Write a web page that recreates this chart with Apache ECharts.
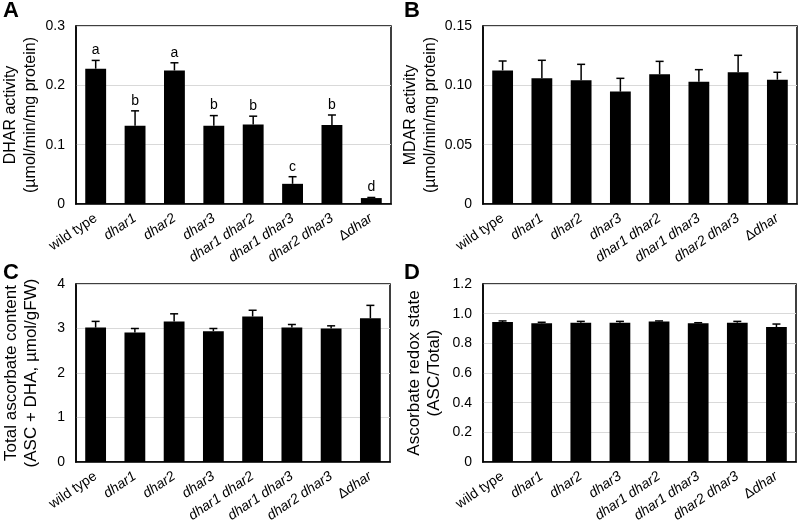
<!DOCTYPE html>
<html>
<head>
<meta charset="utf-8">
<script src="https://cdn.jsdelivr.net/npm/echarts@6/dist/echarts.min.js"></script>
<style>
html,body{margin:0;padding:0;background:#fff;}
#chart{width:800px;height:525px;}
</style>
</head>
<body>
<div id="chart"></div>
<script>
const categories = ['wild type','dhar1','dhar2','dhar3','dhar1 dhar2','dhar1 dhar3','dhar2 dhar3','Δdhar'];

const dharMean = [0.228, 0.132, 0.225, 0.132, 0.134, 0.034, 0.133, 0.010];
const dharErr  = [0.014, 0.025, 0.013, 0.017, 0.014, 0.012, 0.017, 0.001];
const dharLetters = ['a','b','a','b','b','c','b','d'];

const mdarMean = [0.1126, 0.1059, 0.1042, 0.0947, 0.1093, 0.1031, 0.1110, 0.1048];
const mdarErr  = [0.0079, 0.0152, 0.0135, 0.0112, 0.0109, 0.0101, 0.0143, 0.0062];

const ascMean = [3.02, 2.91, 3.16, 2.94, 3.27, 3.02, 3.00, 3.23];
const ascErr  = [0.14, 0.09, 0.17, 0.06, 0.14, 0.07, 0.06, 0.29];

const redoxMean = [0.944, 0.935, 0.939, 0.939, 0.948, 0.935, 0.939, 0.910];
const redoxErr  = [0.007, 0.007, 0.009, 0.009, 0.003, 0.004, 0.009, 0.020];

const yTicksA = ['0','0.1','0.2','0.3'];
const yTicksB = ['0','0.05','0.10','0.15'];
const yTicksC = ['0','1','2','3','4'];
const yTicksD = ['0','0.2','0.4','0.6','0.8','1.0','1.2'];

const panelLetters = ['A','B','C','D'];
const yTitles = [
  ['DHAR activity','(µmol/min/mg protein)'],
  ['MDAR activity','(µmol/min/mg protein)'],
  ['Total ascorbate content','(ASC + DHA, µmol/gFW)'],
  ['Ascorbate redox state','(ASC/Total)']
];

const FONT = 'Arial, "Liberation Sans", sans-serif';

const grids = [
  {left:76, top:26, width:315, height:178},
  {left:483, top:26, width:314, height:178},
  {left:76, top:284, width:314, height:178},
  {left:483, top:284, width:313, height:178}
];
const yCfg = [
  {max:0.3, interval:0.1, ticks:yTicksA, gap:35, fs:16},
  {max:0.15, interval:0.05, ticks:yTicksB, gap:42, fs:16},
  {max:4, interval:1, ticks:yTicksC, gap:35, fs:17},
  {max:1.2, interval:0.2, ticks:yTicksD, gap:39, fs:17}
];
const means = [dharMean, mdarMean, ascMean, redoxMean];
const errs = [dharErr, mdarErr, ascErr, redoxErr];
const letters = [dharLetters, null, null, null];

function catLabel(v){
  if (v === 'wild type') return '{n|wild type}';
  if (v.charAt(0) === 'Δ') return '{n|Δ}{i|' + v.slice(1) + '}';
  return '{i|' + v + '}';
}

function errRender(lets){
  return function(params, api){
    const i = api.value(0), m = api.value(1), e = api.value(2);
    const base = api.coord([i, m]);
    const top = api.coord([i, m + e]);
    const hw = 4;
    const children = [
      {type:'line', shape:{x1:base[0], y1:base[1], x2:top[0], y2:top[1]}, style:{stroke:'#000', lineWidth:1.5}},
      {type:'line', shape:{x1:top[0]-hw, y1:top[1], x2:top[0]+hw, y2:top[1]}, style:{stroke:'#000', lineWidth:1.5}}
    ];
    if (lets) {
      children.push({type:'text', x: top[0], y: top[1] - 3,
        style:{text: lets[i], fill:'#000', fontSize:14, fontFamily:FONT, align:'center', verticalAlign:'bottom'}});
    }
    return {type:'group', children};
  };
}

const option = {
  animation:false,
  backgroundColor:'#fff',
  grid: grids.map(g => Object.assign({show:true, borderColor:'#000', borderWidth:1.5, backgroundColor:'transparent', containLabel:false}, g)),
  xAxis: grids.map((g, k) => ({
    type:'category', gridIndex:k, data:categories,
    axisLine:{show:true, lineStyle:{color:'#000', width:1.5}},
    axisTick:{show:false},
    axisLabel:{
      interval:0, rotate:34, margin:13, color:'#000',
      formatter: catLabel,
      rich:{
        n:{fontSize:14, fontFamily:FONT, color:'#000'},
        i:{fontSize:14, fontFamily:FONT, color:'#000', fontStyle:'italic'}
      }
    },
    splitLine:{show:false}
  })),
  yAxis: yCfg.map((c, k) => ({
    type:'value', gridIndex:k, min:0, max:c.max, interval:c.interval,
    axisLine:{show:true, lineStyle:{color:'#000', width:1.5}},
    axisTick:{show:false},
    axisLabel:{
      color:'#000', fontSize:14, fontFamily:FONT, margin:11,
      formatter: (v) => c.ticks[Math.round(v / c.interval)]
    },
    splitLine:{show:true, lineStyle:{color:'#d9d9d9', width:1}},
    name: '{a|' + yTitles[k][0] + '}\n{b|' + yTitles[k][1] + '}',
    nameLocation:'middle', nameRotate:90, nameGap:c.gap,
    nameTextStyle:{
      align:'center',
      rich:{
        a:{fontSize:c.fs, fontFamily:FONT, color:'#000', lineHeight:20, align:'center'},
        b:{fontSize:c.fs, fontFamily:FONT, color:'#000', lineHeight:20, align:'center'}
      }
    }
  })),
  series: [],
  graphic: panelLetters.map((L, k) => ({
    type:'text', left: (k % 2 === 0) ? 3 : 404, top: (k < 2) ? 0 : 262,
    style:{text:L, fontSize:22, fontWeight:'bold', fontFamily:FONT, fill:'#000'}
  }))
};

for (let k = 0; k < 4; k++) {
  option.series.push({
    type:'bar', xAxisIndex:k, yAxisIndex:k, data: means[k],
    barWidth:'53%', itemStyle:{color:'#000'}, silent:true
  });
  option.series.push({
    type:'custom', xAxisIndex:k, yAxisIndex:k, z:3, silent:true,
    renderItem: errRender(letters[k]),
    encode:{x:0, y:1},
    data: categories.map((c, i) => [i, means[k][i], errs[k][i]])
  });
}

const chart = echarts.init(document.getElementById('chart'), null, {renderer:'canvas'});
chart.setOption(option);
</script>
</body>
</html>
